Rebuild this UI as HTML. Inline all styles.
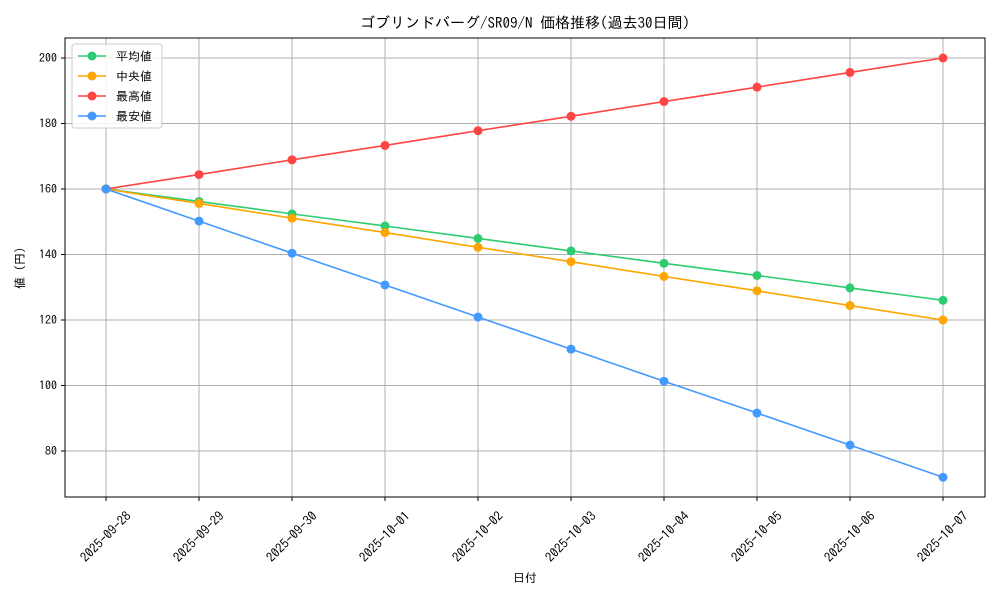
<!DOCTYPE html>
<html><head><meta charset="utf-8"><style>
html,body{margin:0;padding:0;background:#fff;}
svg{display:block;font-family:"IPAGothic","Noto Sans CJK JP",sans-serif;}
</style></head><body>
<svg id="chart" width="1000" height="600" viewBox="0 0 1000 600">
<rect width="1000" height="600" fill="#fff"/>
<text x="525" y="28" text-anchor="middle" font-size="15" fill="#000">ゴブリンドバーグ/SR09/N 価格推移(過去30日間)</text>
<g id="grid"></g>
<g id="series"></g>
<rect x="65" y="38" width="920" height="459" fill="none" stroke="#000" stroke-width="1"/>
<g id="ticks"></g>
<text x="525" y="582" text-anchor="middle" font-size="12">日付</text>
<text transform="translate(24,268) rotate(-90)" text-anchor="middle" font-size="12">値 (円)</text>
<g id="legend"></g>
</svg>
<script>
const categories=["2025-09-28","2025-09-29","2025-09-30","2025-10-01","2025-10-02","2025-10-03","2025-10-04","2025-10-05","2025-10-06","2025-10-07"];
const avgValues=[160,156.2,152.4,148.7,144.9,141.1,137.3,133.6,129.8,126];
const medianValues=[160,155.6,151.1,146.7,142.2,137.8,133.3,128.9,124.4,120];
const maxValues=[160,164.4,168.9,173.3,177.8,182.2,186.7,191.1,195.6,200];
const minValues=[160,150.2,140.4,130.7,120.9,111.1,101.3,91.6,81.8,72];
const yTicks=[80,100,120,140,160,180,200];
const seriesNames=["平均値","中央値","最高値","最安値"];

const NS="http://www.w3.org/2000/svg";
function mk(tag,attrs,parent){const e=document.createElementNS(NS,tag);for(const k in attrs)e.setAttribute(k,attrs[k]);parent.appendChild(e);return e;}
function xPos(i){return 106+i*(943-106)/(categories.length-1);}
function yPos(v){return 58+(200-v)*(451-58)/120;}
const grid=document.getElementById('grid'),ticks=document.getElementById('ticks'),ser=document.getElementById('series'),leg=document.getElementById('legend');
categories.forEach((c,i)=>{
  const x=xPos(i);
  const g=mk('line',{x1:x,x2:x,y1:38,y2:497,stroke:'#b0b0b0','stroke-width':1},grid);
  
  
  mk('line',{x1:x,x2:x,y1:497,y2:501,stroke:'#000'},ticks);
  const t=mk('text',{x:0,y:4,'font-size':13,'text-anchor':'middle',transform:`translate(${x},537) rotate(-45)`},ticks);
  t.textContent=c;
  
  
});
yTicks.forEach(v=>{
  const y=yPos(v);
  const g=mk('line',{x1:65,x2:985,y1:y,y2:y,stroke:'#b0b0b0','stroke-width':1},grid);
  
  
  mk('line',{x1:61,x2:65,y1:y,y2:y,stroke:'#000'},ticks);
  const t=mk('text',{x:57,y:y+4,'font-size':12,'text-anchor':'end'},ticks);
  t.textContent=v;
  
  
});
const allSeries=[[avgValues,'#2ecc71','avg'],[medianValues,'#ffa500','median'],[maxValues,'#ff4444','max'],[minValues,'#4499ff','min']];
allSeries.forEach(([vals,col,key])=>{
  const p=mk('polyline',{points:vals.map((v,i)=>xPos(i)+','+yPos(v)).join(' '),fill:'none',stroke:col,'stroke-width':1.6},ser);
  
  
  vals.forEach((v,i)=>{
    const c=mk('circle',{cx:xPos(i),cy:yPos(v),r:4.5,fill:col},ser);
    
    
  });
});
const lb=mk('rect',{x:72,y:44,width:90,height:84,rx:3,fill:'#fff','fill-opacity':0.85,stroke:'#ccc'},leg);


allSeries.forEach(([vals,col,key],i)=>{
  const y=56+i*20;
  mk('line',{x1:78,x2:106,y1:y,y2:y,stroke:col,'stroke-width':1.6},leg);
  mk('circle',{cx:92,cy:y,r:4.5,fill:col},leg);
  const t=mk('text',{x:116,y:y+4.5,'font-size':12},leg);
  t.textContent=seriesNames[i];
  
  
});
</script>
</body></html>
